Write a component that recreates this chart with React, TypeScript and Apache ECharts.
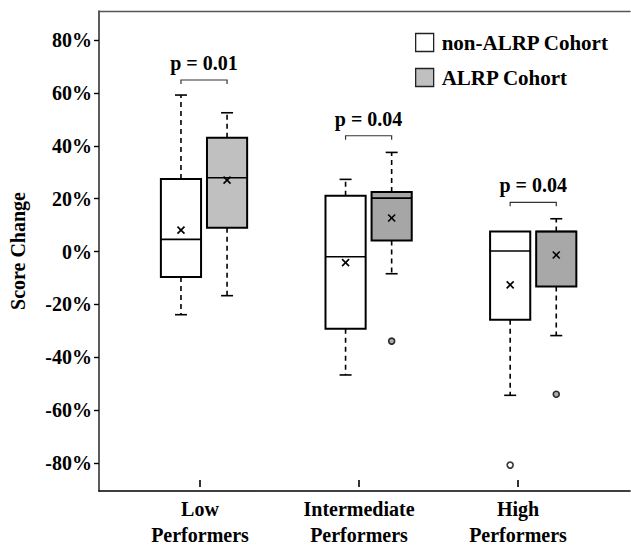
import React, { useEffect, useRef } from "react";
import * as echarts from "echarts";

// ---------- data ----------
const categories = ["Low\nPerformers", "Intermediate\nPerformers", "High\nPerformers"];
const groupIndex = [1, 2, 3];
const yTickValues = [-80, -60, -40, -20, 0, 20, 40, 60, 80];
const seriesNames = ["non-ALRP Cohort", "ALRP Cohort"];

// [lower whisker, Q1, median, Q3, upper whisker]
const nonAlrpStats = [
  [-23.9, -9.6, 4.6, 27.4, 59.2],
  [-46.7, -29.2, -2.0, 21.1, 27.3],
  [-54.4, -25.8, 0.2, 7.6, 7.6],
];
const alrpStats = [
  [-16.7, 9.0, 27.9, 43.0, 52.5],
  [-8.4, 4.2, 20.2, 22.5, 37.5],
  [-31.8, -13.2, 7.6, 7.6, 12.4],
];
const nonAlrpMeans = [8.1, -4.2, -12.6];
const alrpMeans = [27.0, 12.7, -1.3];
// [group, value]
const nonAlrpOutliers = [[3, -80.8]];
const alrpOutliers = [
  [2, -33.9],
  [3, -54.0],
];
const pValueLabels = ["p = 0.01", "p = 0.04", "p = 0.04"];
const bracketLevels = [64.9, 43.8, 18.6];

// ---------- styles ----------
const FONT = "Liberation Serif";
const nonAlrpFills = ["#ffffff", "#ffffff", "#ffffff"];
const alrpFills = ["#c0c0c0", "#a6a6a6", "#a8a8a8"];
const OFFSET = 0.14;
const BOX_HALF = 0.122;

function boxRenderer(offset: number, fills: string[]) {
  return (params: any, api: any) => {
    const x = (api.value(0) as number) + offset;
    const low = api.value(1) as number;
    const q1 = api.value(2) as number;
    const med = api.value(3) as number;
    const q3 = api.value(4) as number;
    const high = api.value(5) as number;
    const mean = api.value(6) as number;
    const [cx, yq3] = api.coord([x, q3]);
    const yq1 = api.coord([x, q1])[1];
    const ymed = api.coord([x, med])[1];
    const ylow = api.coord([x, low])[1];
    const yhigh = api.coord([x, high])[1];
    const ymean = api.coord([x, mean])[1];
    const hw = api.size([BOX_HALF, 0])[0];
    const cap = 6;
    const children: any[] = [];
    const dashStyle = { stroke: "#000", lineWidth: 1.6, lineDash: [5, 4] };
    const solid = { stroke: "#000", lineWidth: 1.6 };
    if (high > q3) {
      children.push({ type: "line", shape: { x1: cx, y1: yq3, x2: cx, y2: yhigh }, style: dashStyle });
      children.push({ type: "line", shape: { x1: cx - cap, y1: yhigh, x2: cx + cap, y2: yhigh }, style: solid });
    }
    if (low < q1) {
      children.push({ type: "line", shape: { x1: cx, y1: yq1, x2: cx, y2: ylow }, style: dashStyle });
      children.push({ type: "line", shape: { x1: cx - cap, y1: ylow, x2: cx + cap, y2: ylow }, style: solid });
    }
    children.push({
      type: "rect",
      shape: { x: cx - hw, y: yq3, width: hw * 2, height: yq1 - yq3 },
      style: { fill: fills[params.dataIndex], stroke: "#000", lineWidth: 2 },
    });
    children.push({ type: "line", shape: { x1: cx - hw, y1: ymed, x2: cx + hw, y2: ymed }, style: solid });
    const m = 3.5;
    children.push({ type: "line", shape: { x1: cx - m, y1: ymean - m, x2: cx + m, y2: ymean + m }, style: { stroke: "#000", lineWidth: 1.6 } });
    children.push({ type: "line", shape: { x1: cx - m, y1: ymean + m, x2: cx + m, y2: ymean - m }, style: { stroke: "#000", lineWidth: 1.6 } });
    return { type: "group", children };
  };
}

function bracketRenderer(params: any, api: any) {
  const g = api.value(0) as number;
  const lvl = api.value(1) as number;
  const [x1, y] = api.coord([g - OFFSET, lvl]);
  const x2 = api.coord([g + OFFSET, lvl])[0];
  return {
    type: "group",
    children: [
      {
        type: "polyline",
        shape: { points: [[x1, y + 4], [x1, y], [x2, y], [x2, y + 4]] },
        style: { stroke: "#333", lineWidth: 1.2, fill: "none" },
      },
      {
        type: "text",
        x: (x1 + x2) / 2,
        y: y - 17,
        style: {
          text: pValueLabels[params.dataIndex],
          fill: "#000",
          font: `bold 20px "${FONT}"`,
          align: "center",
          verticalAlign: "middle",
        },
      },
    ],
  };
}

export default function App() {
  const ref = useRef<HTMLDivElement>(null);
  useEffect(() => {
    if (!ref.current) return;
    const chart = echarts.init(ref.current, undefined, { renderer: "svg" });
    const nonData = nonAlrpStats.map((s, i) => [groupIndex[i], ...s, nonAlrpMeans[i]]);
    const alrpData = alrpStats.map((s, i) => [groupIndex[i], ...s, alrpMeans[i]]);
    const option: any = {
      animation: false,
      backgroundColor: "#fff",
      textStyle: { fontFamily: FONT },
      legend: {
        orient: "vertical",
        left: 415,
        top: 32,
        padding: 0,
        itemWidth: 18,
        itemHeight: 18,
        itemGap: 14,
        icon: "rect",
        selectedMode: false,
        textStyle: { fontFamily: FONT, fontWeight: "bold", fontSize: 21, color: "#000", padding: [0, 0, 0, 3] },
        data: [
          { name: seriesNames[0], itemStyle: { color: "#fff", borderColor: "#222", borderWidth: 1.3 } },
          { name: seriesNames[1], itemStyle: { color: "#c0c0c0", borderColor: "#222", borderWidth: 1.3 } },
        ],
      },
      grid: [
        { left: 99, top: 11, right: 1, bottom: 57 },
        { left: 120.5, top: 11, right: 33.5, bottom: 57 },
      ],
      xAxis: [
        {
          type: "value",
          gridIndex: 0,
          min: 0.362,
          max: 3.588,
          position: "bottom",
          axisLine: { show: true, onZero: false, lineStyle: { color: "#000", width: 1.6 } },
          axisTick: { show: false },
          axisLabel: { show: false },
          splitLine: { show: false },
        },
        {
          type: "value",
          gridIndex: 0,
          min: 0.362,
          max: 3.588,
          position: "top",
          axisLine: { show: true, onZero: false, lineStyle: { color: "#555", width: 1.4 } },
          axisTick: { show: false },
          axisLabel: { show: false },
          splitLine: { show: false },
        },
        {
          type: "category",
          gridIndex: 1,
          data: categories,
          position: "bottom",
          axisLine: { show: false, onZero: false },
          axisTick: { show: true, alignWithLabel: true, length: 7, lineStyle: { color: "#000", width: 1.6 } },
          axisLabel: {
            margin: 16,
            fontFamily: FONT,
            fontWeight: "bold",
            fontSize: 20,
            lineHeight: 26,
            color: "#000",
          },
        },
      ],
      yAxis: [
        {
          type: "value",
          gridIndex: 0,
          min: -90.6,
          max: 91.0,
          name: "Score Change",
          nameLocation: "middle",
          nameRotate: 90,
          nameGap: 71,
          nameTextStyle: { fontFamily: FONT, fontWeight: "bold", fontSize: 20, color: "#000" },
          axisLine: { show: true, onZero: false, lineStyle: { color: "#333", width: 1.6 } },
          axisTick: { show: true, length: 5, customValues: yTickValues, lineStyle: { color: "#000", width: 1.4 } },
          axisLabel: {
            customValues: yTickValues,
            formatter: (v: number) => `${v}%`,
            margin: 7,
            fontFamily: FONT,
            fontWeight: "bold",
            fontSize: 20,
            color: "#000",
          },
          splitLine: { show: false },
        },
        { type: "value", gridIndex: 1, show: false },
      ],
      series: [
        {
          name: seriesNames[0],
          type: "custom",
          xAxisIndex: 0,
          yAxisIndex: 0,
          itemStyle: { color: "#fff" },
          renderItem: boxRenderer(-OFFSET, nonAlrpFills),
          data: nonData,
          z: 3,
        },
        {
          name: seriesNames[1],
          type: "custom",
          xAxisIndex: 0,
          yAxisIndex: 0,
          itemStyle: { color: "#c0c0c0" },
          renderItem: boxRenderer(OFFSET, alrpFills),
          data: alrpData,
          z: 3,
        },
        {
          type: "scatter",
          xAxisIndex: 0,
          yAxisIndex: 0,
          symbol: "circle",
          symbolSize: 6,
          itemStyle: { color: "#fff", borderColor: "#000", borderWidth: 1.6 },
          data: nonAlrpOutliers.map(([g, v]) => [g - OFFSET, v]),
          z: 4,
        },
        {
          type: "scatter",
          xAxisIndex: 0,
          yAxisIndex: 0,
          symbol: "circle",
          symbolSize: 6,
          itemStyle: { color: "#999", borderColor: "#000", borderWidth: 1.6 },
          data: alrpOutliers.map(([g, v]) => [g + OFFSET, v]),
          z: 4,
        },
        {
          type: "custom",
          xAxisIndex: 0,
          yAxisIndex: 0,
          renderItem: bracketRenderer,
          data: groupIndex.map((g, i) => [g, bracketLevels[i]]),
          z: 4,
        },
      ],
    };
    chart.setOption(option);
    return () => chart.dispose();
  }, []);
  return (
    <div
      ref={ref}
      style={{ position: "fixed", left: 0, top: 0, width: 631, height: 548, background: "#fff" }}
    />
  );
}
